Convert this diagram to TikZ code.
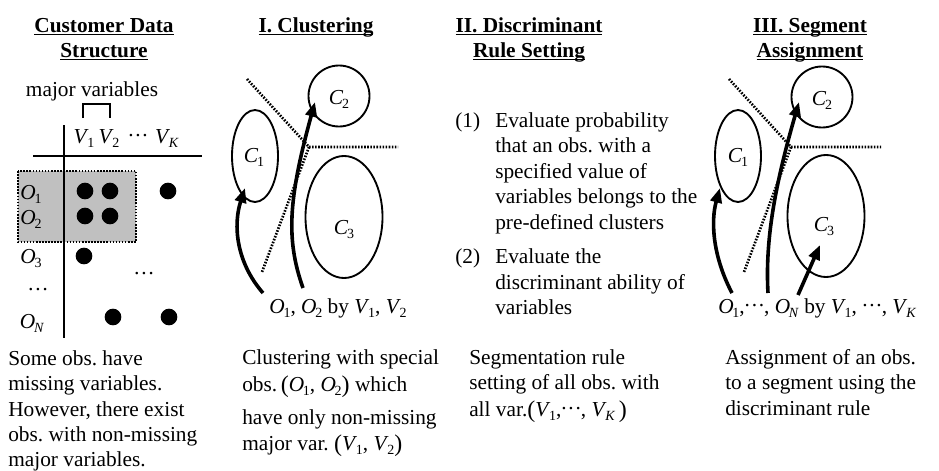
\documentclass[tikz,border=0pt]{standalone}
\usepackage{fontspec}
\setmainfont{Liberation Serif}
\usetikzlibrary{arrows.meta,shapes.geometric}
\frenchspacing
\newcommand\sv[2]{\textit{#1}\kern-.06em\raisebox{-.45ex}{\fontsize{10.5}{10.5}\selectfont #2}}
\newcommand\ulx[1]{\setbox0\hbox{#1}\rlap{\rule[-2.4pt]{\wd0}{1pt}}\box0}
\newcommand\lpar{\raisebox{-1pt}{\fontsize{18}{18}\selectfont (}}
\newcommand\rpar{\raisebox{-1pt}{\fontsize{18}{18}\selectfont )}}
\newcommand\cds{\raisebox{.3em}{.\kern.08em.\kern.08em.}}
\begin{document}
\begin{tikzpicture}[x=0.75pt,y=-0.75pt,
  txt/.style={anchor=base west,inner sep=0pt,font=\fontsize{16}{19}\selectfont},
  ctr/.style={anchor=base,inner sep=0pt,font=\fontsize{16}{19}\selectfont},
  ttl/.style={anchor=base,inner sep=0pt,font=\fontsize{16}{19}\selectfont\bfseries},
  tbl/.style={line width=1.8pt},
  dotln/.style={line width=2pt,dash pattern=on 1.2pt off 1.1pt},
  dotpt/.style={circle,fill=black,inner sep=0pt,minimum size=12.5pt},
  clus/.style={ellipse,draw,line width=1.4pt,inner sep=0pt},
  arr/.style={line width=2.7pt,-{Triangle[length=11pt,width=8.5pt]}},
]
\useasboundingbox (0,0) rectangle (939,471);

% ---------- Column 1 ----------
\node[ttl] (t1a) at (104,32) {\ulx{Customer Data}};
\node[ttl] (t1b) at (104,57) {\ulx{Structure}};
\node[ctr] (mv) at (92,96) {major variables};
\draw[tbl] (83,118) -- (83,104) -- (110,104) -- (110,118);
\node[ctr] (hv1) at (84,143) {\sv{V}{1}};
\node[ctr] (hv2) at (109,143) {\sv{V}{2}};
\node[ctr] (hvd) at (138,143) {\cds};
\node[ctr] (hvk) at (167,143) {\sv{V}{\textit{K}}};
\draw[dotln,fill={rgb,255:red,192;green,192;blue,192}] (18,171) rectangle (136,242);
\draw[tbl] (64,125) -- (64,338);
\draw[tbl] (33,156) -- (202,156);
\node[ctr] (o1) at (31,199) {\sv{O}{1}};
\node[ctr] (o2) at (31,224) {\sv{O}{2}};
\node[ctr] (o3) at (31,263) {\sv{O}{3}};
\node[ctr] (od) at (38,290) {\ldots};
\node[ctr] (on) at (32,328) {\sv{O}{\textit{N}}};
\node[dotpt] (p11) at (85,191) {};
\node[dotpt] (p12) at (110,191) {};
\node[dotpt] (p1k) at (168,191) {};
\node[dotpt] (p21) at (85,216) {};
\node[dotpt] (p22) at (110,216) {};
\node[dotpt] (p31) at (84,256) {};
\node[dotpt] (pn2) at (113,317) {};
\node[dotpt] (pnk) at (169,317) {};
\node[ctr] (md) at (144,274) {\ldots};
\node[txt] (b1a) at (8,365) {Some obs. have};
\node[txt] (b1b) at (8,390.5) {missing variables.};
\node[txt] (b1c) at (8,416) {However, there exist};
\node[txt] (b1d) at (8,441) {obs. with non-missing};
\node[txt] (b1e) at (8,466) {major variables.};

% ---------- Column 2 ----------
\node[ttl] (t2a) at (316,32) {\ulx{I. Clustering}};
\coordinate (j2) at (309,147);
\coordinate (d2a) at (247,79);
\coordinate (d2b) at (398,147);
\coordinate (d2c) at (262,272);
\draw[dotln] (d2a) -- (j2) -- (d2b);
\draw[dotln] (j2) -- (d2c);
\node[clus,minimum width=34.5pt,minimum height=69pt] (c1) at (255,156) {};
\node[clus,minimum width=45.75pt,minimum height=45.75pt] (c2) at (339,96) {};
\node[clus,minimum width=57.75pt,minimum height=91.5pt] (c3) at (344,217) {};
\node[ctr] (c1l) at (254,162) {\sv{C}{1}};
\node[ctr] (c2l) at (339,104) {\sv{C}{2}};
\node[ctr] (c3l) at (344,234) {\sv{C}{3}};
\coordinate (s21) at (263,293);
\coordinate (e21) at (245,188);
\coordinate (s22) at (303,288);
\coordinate (e22) at (315,102);
\draw[arr] (s21) .. controls (236,262) and (233,225) .. (e21);
\draw[arr] (s22) .. controls (286,240) and (288,200) .. (e22);
\node[ctr] (lab2) at (338,313) {\sv{O}{1},\ \sv{O}{2} by \sv{V}{1},\ \sv{V}{2}};
\node[txt] (b2a) at (242,364) {Clustering with special};
\node[txt] (b2b) at (242,391) {obs.\,\lpar\sv{O}{1},\ \sv{O}{2}\rpar\ which};
\node[txt] (b2c) at (242,424) {have only non-missing};
\node[txt] (b2d) at (242,450) {major var. \lpar\sv{V}{1},\ \sv{V}{2}\rpar};

% ---------- Column 3 ----------
\node[ttl] (t3a) at (529,32) {\ulx{II. Discriminant}};
\node[ttl] (t3b) at (529,57) {\ulx{Rule Setting}};
\node[txt] (n1) at (455,127) {(1)};
\node[txt] (i1a) at (495,127) {Evaluate probability};
\node[txt] (i1b) at (495,152.5) {that an obs. with a};
\node[txt] (i1c) at (495,178) {specified value of};
\node[txt] (i1d) at (495,203.5) {variables belongs to the};
\node[txt] (i1e) at (495,229) {pre-defined clusters};
\node[txt] (n2) at (455,263) {(2)};
\node[txt] (i2a) at (495,263) {Evaluate the};
\node[txt] (i2b) at (495,289) {discriminant ability of};
\node[txt] (i2c) at (495,314) {variables};
\node[txt] (b3a) at (469,364) {Segmentation rule};
\node[txt] (b3b) at (469,389.5) {setting of all obs. with};
\node[txt] (b3c) at (469,416) {all var.\lpar\sv{V}{1},\cds, \sv{V}{\textit{K}}\,\rpar};

% ---------- Column 4 ----------
\node[ttl] (t4a) at (810,32) {\ulx{III. Segment}};
\node[ttl] (t4b) at (810,57) {\ulx{Assignment}};
\coordinate (j4) at (791,147);
\coordinate (d4a) at (729,79);
\coordinate (d4b) at (881,147);
\coordinate (d4c) at (744,272);
\draw[dotln] (d4a) -- (j4) -- (d4b);
\draw[dotln] (j4) -- (d4c);
\node[clus,minimum width=34.5pt,minimum height=69pt] (k1) at (738,156) {};
\node[clus,minimum width=45.75pt,minimum height=45.75pt] (k2) at (822,97) {};
\node[clus,minimum width=57.75pt,minimum height=91.5pt] (k3) at (826,216) {};
\node[ctr] (k1l) at (738,162) {\sv{C}{1}};
\node[ctr] (k2l) at (822,105) {\sv{C}{2}};
\node[ctr] (k3l) at (824,231) {\sv{C}{3}};
\coordinate (s41) at (732,293);
\coordinate (e41) at (720,188);
\coordinate (s42) at (768,293);
\coordinate (e42) at (799,102);
\coordinate (s43) at (798,295);
\coordinate (e43) at (820,245);
\draw[arr] (s41) .. controls (712,255) and (711,220) .. (e41);
\draw[arr] (s42) .. controls (765,240) and (775,185) .. (e42);
\draw[arr] (s43) -- (e43);
\node[txt] (lab4) at (718,313) {\sv{O}{1},\cds, \sv{O}{\textit{N}}\ by \sv{V}{1},\ \cds,\ \sv{V}{\textit{K}}};
\node[txt] (b4a) at (725,364) {Assignment of an obs.};
\node[txt] (b4b) at (725,389.5) {to a segment using the};
\node[txt] (b4c) at (725,415) {discriminant rule};
\end{tikzpicture}
\end{document}
